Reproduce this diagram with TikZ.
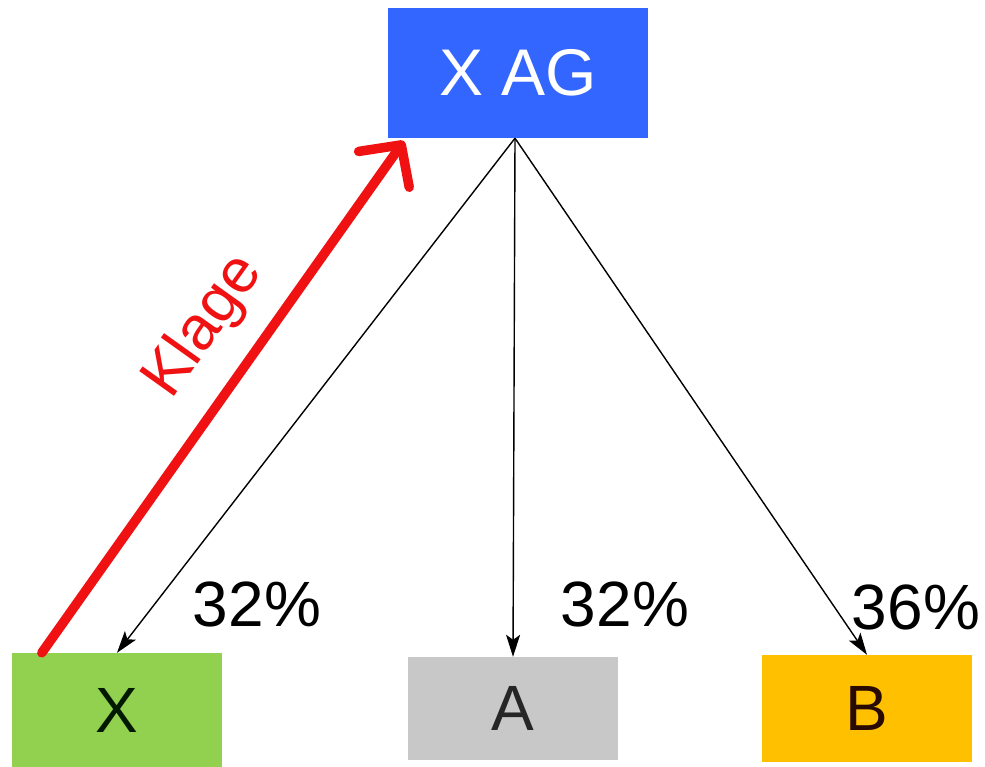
\documentclass[tikz,border=0pt]{standalone}
\usepackage{fontspec}
\setmainfont{Liberation Sans}
\usetikzlibrary{arrows.meta,calc}
\definecolor{xagblue}{RGB}{51,102,255}
\definecolor{xgreen}{RGB}{146,208,80}
\definecolor{agray}{RGB}{200,200,200}
\definecolor{borange}{RGB}{255,192,0}
\definecolor{klred}{RGB}{240,18,18}
\tikzset{
  box/.style={inner sep=0pt, draw=none, minimum width=210pt},
  big/.style={font=\fontsize{64}{64}\selectfont},
  share/.style={-{Stealth[length=22pt,width=14pt,inset=5pt]}, line width=1.4pt, black},
  suit/.style={line width=9.5pt, klred, line cap=round, -{Straight Barb[length=30pt,width=62pt,round]}},
}
\begin{document}
\begin{tikzpicture}[x=1pt,y=-1pt]
\useasboundingbox (0,0) rectangle (985,767);
\node[box, fill=xagblue, minimum width=260pt, minimum height=130pt, font=\fontsize{66}{66}\selectfont, text=white] (xag) at (518,73) {X AG};
\node[box, fill=xgreen, minimum height=114pt, big, text=black!90!green] (x) at (117,710) {X};
\node[box, fill=agray, minimum height=103pt, big, text=black!85] (a) at (513,708.5) {A};
\node[box, fill=borange, minimum height=107pt, big, text={rgb,255:red,40;green,10;blue,0}] (b) at (867,708.5) {B};
\node[big, inner sep=0pt] (p1) at (257,604) {32\%};
\node[big, inner sep=0pt] (p2) at (625,604) {32\%};
\node[big, inner sep=0pt] (p3) at (916,607) {36\%};
\coordinate (o) at ($(xag.south)+(-3,0)$);
\draw[share] (o) -- (x.north);
\draw[share] (o) -- (a.north);
\draw[share] (o) -- (b.north);
\coordinate (ks) at ($(x.north west)+(30,0)$);
\coordinate (ke) at (404,141);
\draw[suit] (ks) -- (ke);
\node[text=klred, rotate=54.5, inner sep=0pt, font=\fontsize{62}{62}\selectfont] (kl) at (204,327) {Klage};
\end{tikzpicture}
\end{document}
